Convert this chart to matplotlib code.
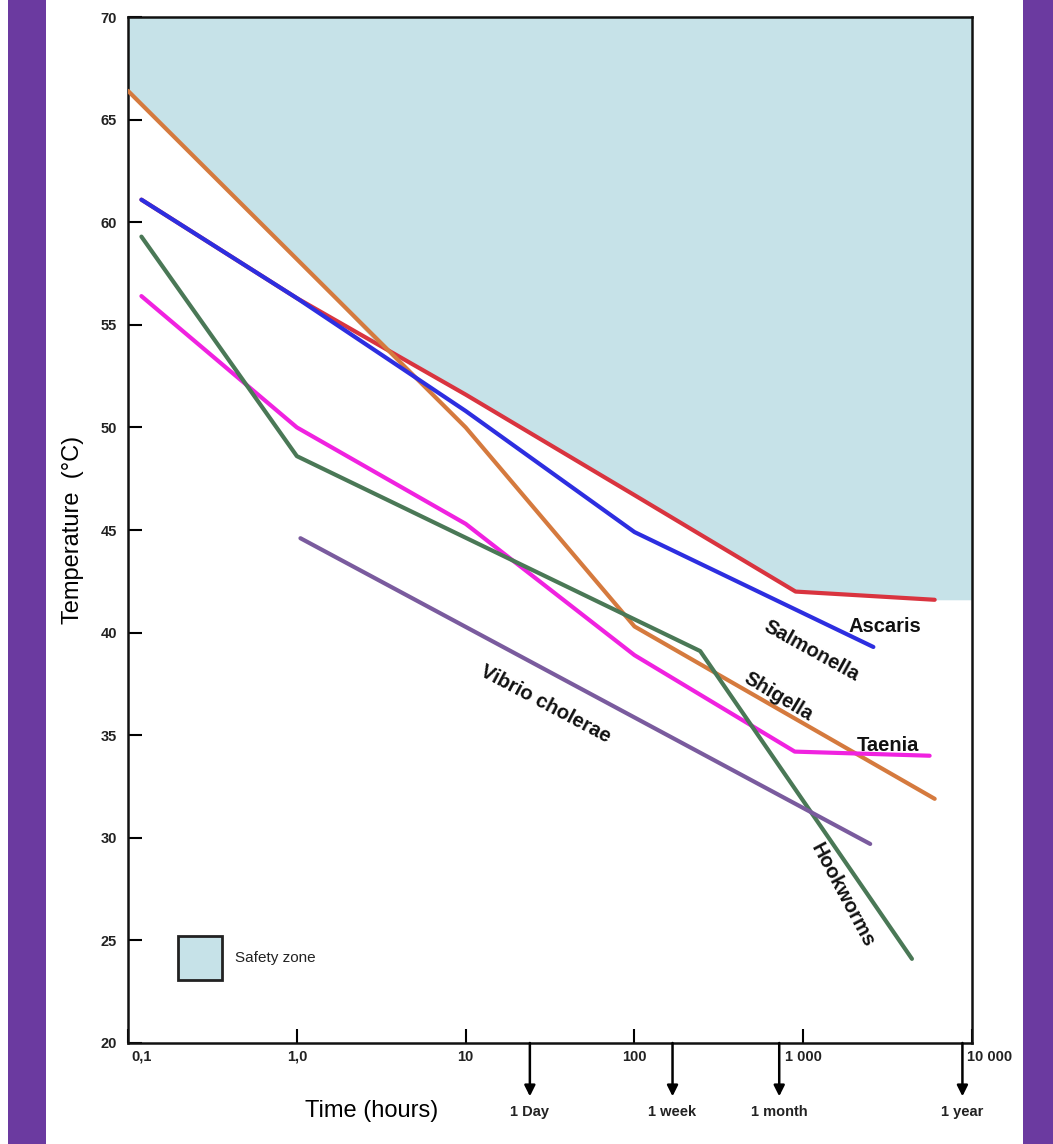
import numpy as np
import matplotlib
matplotlib.use("Agg")
import matplotlib.pyplot as plt
from matplotlib.patches import Rectangle
from matplotlib.transforms import ScaledTranslation

plt.rcParams['font.family'] = ['Liberation Sans', 'DejaVu Sans']

# ---- data (time in hours, temperature in deg C) ----
zone_x = [0.1, 1.0, 2.9, 10, 100, 900, 6000, 10000]
zone_y = [66.4, 58.2, 54.2, 51.6, 46.7, 42.0, 41.6, 41.6]

ascaris_x = [0.12, 1.0, 10, 100, 900, 6000]
ascaris_y = [61.1, 56.3, 51.6, 46.7, 42.0, 41.6]

salmonella_x = [0.12, 1.0, 10, 100, 2600]
salmonella_y = [61.1, 56.3, 50.8, 44.9, 39.3]

shigella_x = [0.1, 1.0, 10, 100, 6000]
shigella_y = [66.4, 58.2, 50.0, 40.3, 31.9]

taenia_x = [0.12, 1.0, 10, 100, 890, 5600]
taenia_y = [56.4, 50.0, 45.3, 38.9, 34.2, 34.0]

hookworms_x = [0.12, 1.0, 245, 4400]
hookworms_y = [59.3, 48.6, 39.1, 24.1]

vibrio_x = [1.05, 2490]
vibrio_y = [44.6, 29.7]

xticks = [0.1, 1, 10, 100, 1000, 10000]
xticklabels = ["0,1", "1,0", "10", "100", "1 000", "10 000"]
yticks = [20, 25, 30, 35, 40, 45, 50, 55, 60, 65, 70]

period_x = [24, 168, 720, 8760]
period_labels = ["1 Day", "1 week", "1 month", "1 year"]

# ---- figure ----
fig = plt.figure(figsize=(10.53, 11.44), dpi=100)
fig.patches.append(Rectangle((0.0076, 0), 0.036, 1, transform=fig.transFigure,
                             facecolor='#6b3aa0', edgecolor='none', zorder=0))
fig.patches.append(Rectangle((0.9715, 0), 0.03, 1, transform=fig.transFigure,
                             facecolor='#6b3aa0', edgecolor='none', zorder=0))

ax = fig.add_axes([0.1216, 0.0883, 0.8016, 0.8968])
ax.set_xscale('log')
ax.set_xlim(0.1, 10000)
ax.set_ylim(20, 70)

zone_color = '#c6e2e8'
ax.fill_between(zone_x, zone_y, 70, color=zone_color, lw=0, zorder=1)

lw = 3.0
ax.plot(ascaris_x, ascaris_y, color='#d9343f', lw=lw, zorder=3, solid_capstyle='round')
ax.plot(salmonella_x, salmonella_y, color='#2d2ee0', lw=lw, zorder=4, solid_capstyle='round')
ax.plot(shigella_x, shigella_y, color='#d57a3e', lw=lw, zorder=3, solid_capstyle='round')
ax.plot(taenia_x, taenia_y, color='#f022e0', lw=lw, zorder=3, solid_capstyle='round')
ax.plot(hookworms_x, hookworms_y, color='#4a7856', lw=lw, zorder=3, solid_capstyle='round')
ax.plot(vibrio_x, vibrio_y, color='#7a5b9e', lw=lw, zorder=3, solid_capstyle='round')

lab = dict(fontsize=14.5, color='#111111', zorder=5, ha='center', va='center',
           family=['Liberation Sans Narrow', 'Liberation Sans', 'DejaVu Sans'],
           fontweight='bold')
ax.text(3050, 40.3, "Ascaris", **lab)
ax.text(1120, 39.1, "Salmonella", rotation=-29, **lab)
ax.text(708, 36.9, "Shigella", rotation=-31, **lab)
ax.text(3170, 34.5, "Taenia", **lab)
ax.text(29.6, 36.5, "Vibrio cholerae", rotation=-28, **lab)
ax.text(1700, 27.2, "Hookworms", rotation=-62, **lab)

# ticks
ax.set_xticks(xticks)
ax.set_xticklabels(xticklabels)
ax.minorticks_off()
ax.set_yticks(yticks)
ax.tick_params(axis='both', direction='in', length=10, width=1.5, labelsize=10.5)
ax.tick_params(axis='x', pad=5)
ax.tick_params(axis='y', pad=8)
for t in ax.get_xticklabels() + ax.get_yticklabels():
    t.set_fontweight('bold')
    t.set_color('#222222')
xl = ax.get_xticklabels()
xl[0].set_transform(xl[0].get_transform() + ScaledTranslation(0.14, 0, fig.dpi_scale_trans))
xl[-1].set_transform(xl[-1].get_transform() + ScaledTranslation(0.17, 0, fig.dpi_scale_trans))
for s in ax.spines.values():
    s.set_linewidth(1.8)
    s.set_color('#111111')

ax.set_ylabel("Temperature  (°C)", fontsize=17, labelpad=12)
ax.set_xlabel("Time (hours)", fontsize=17)
ax.xaxis.set_label_coords(0.289, -0.056)

# period arrows
for px, pl in zip(period_x, period_labels):
    ax.annotate('', xy=(px, -0.052), xytext=(px, 0.0),
                xycoords=('data', 'axes fraction'), textcoords=('data', 'axes fraction'),
                arrowprops=dict(arrowstyle='-|>', color='black', lw=1.8,
                                mutation_scale=16, shrinkA=0, shrinkB=0),
                annotation_clip=False)
    ax.text(px, -0.067, pl, transform=ax.get_xaxis_transform(), ha='center', va='center',
            fontsize=10.5, fontweight='bold', color='#222222')

# legend key
ax.add_patch(Rectangle((0.059, 0.061), 0.052, 0.043, transform=ax.transAxes,
                       facecolor=zone_color, edgecolor='#222222', lw=2, zorder=5))
ax.text(0.127, 0.0825, "Safety zone", transform=ax.transAxes, ha='left', va='center',
        fontsize=11, color='#222222')

fig.savefig("out.png", dpi=100)
